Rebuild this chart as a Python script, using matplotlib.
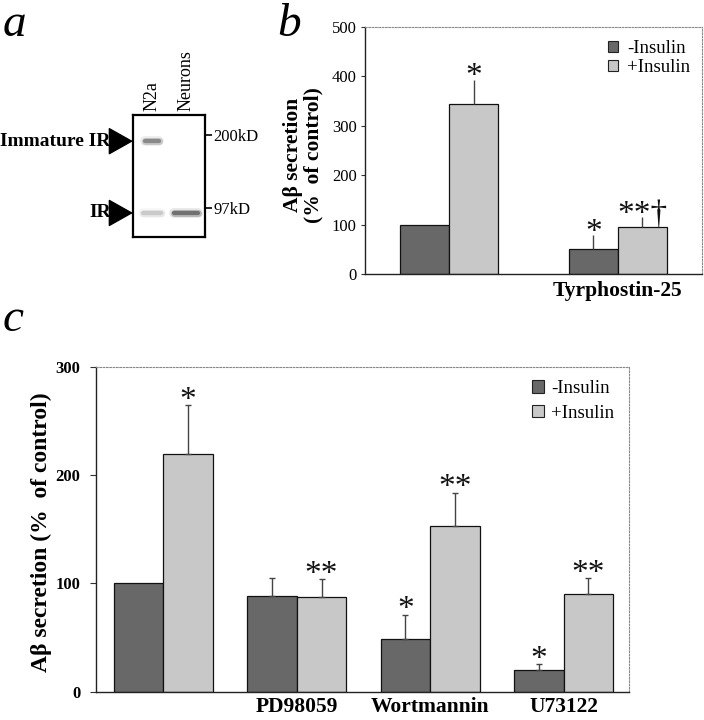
import numpy as np
import matplotlib
matplotlib.use("Agg")
import matplotlib.pyplot as plt
from matplotlib.patches import Patch
from matplotlib.ticker import NullLocator, FixedLocator

plt.rcParams['font.family'] = ['Liberation Serif', 'DejaVu Serif']

# ---------------- data ----------------
# Panel a (western blot)
lane_labels = ["N2a", "Neurons"]
marker_kd = [200, 97]
marker_labels = ["200kD", "97kD"]
band_lane = [0, 0, 1]
band_kd = [188, 92, 92]
band_width = [0.42, 0.55, 0.72]
band_intensity = [0.75, 0.3, 0.95]
arrow_labels = ["Immature IR", "IR"]
arrow_kd = [188, 92]

# Panel b
b_groups = ["", "Tyrphostin-25"]
b_minus = [100, 50]
b_minus_err = [0, 29]
b_plus = [345, 95]
b_plus_err = [48, 20]
b_minus_sig = ["", "*"]
b_plus_sig = ["*", "**\u2020"]

# Panel c
c_groups = ["", "PD98059", "Wortmannin", "U73122"]
c_minus = [100, 88, 49, 20]
c_minus_err = [0, 17, 22, 5]
c_plus = [220, 87, 153, 90]
c_plus_err = [45, 17, 31, 15]
c_minus_sig = ["", "", "*", "*"]
c_plus_sig = ["*", "**", "**", "**"]

series_labels = ["-Insulin", "+Insulin"]
DARK = "#686868"
LIGHT = "#c8c8c8"

W, H = 704, 720
fig = plt.figure(figsize=(W / 100, H / 100), dpi=100)


def px_axes(left, top, right, bottom):
    return fig.add_axes([left / W, 1 - bottom / H, (right - left) / W, (bottom - top) / H])


def style_axes(ax):
    for s in ("top", "right"):
        ax.spines[s].set_color("#8a8a8a")
        ax.spines[s].set_linestyle((0, (1.5, 1.5)))
        ax.spines[s].set_linewidth(0.8)
    for s in ("left", "bottom"):
        ax.spines[s].set_color("#222222")
        ax.spines[s].set_linewidth(1.0)


def draw_bars(ax, groups, minus, minus_err, plus, plus_err, msig, psig,
              width, capsize, sigsize, sig_off):
    x = np.arange(len(groups))
    xm = x - width / 2
    xp = x + width / 2
    ax.bar(xm, minus, width, color=DARK, edgecolor="#111111", linewidth=0.9, zorder=2)
    ax.bar(xp, plus, width, color=LIGHT, edgecolor="#111111", linewidth=0.9, zorder=2)
    for xs, vals, errs, sigs in ((xm, minus, minus_err, msig), (xp, plus, plus_err, psig)):
        for xi, v, e, s in zip(xs, vals, errs, sigs):
            if e > 0:
                ax.errorbar([xi], [v], yerr=[[0], [e]], fmt="none", ecolor="#444444",
                            elinewidth=1.0, capsize=capsize, capthick=1.0, zorder=3)
            if s:
                ax.annotate(s, xy=(xi, v + e), xytext=(0, sig_off), textcoords="offset points",
                            ha="center", va="baseline", fontsize=sigsize, color="#111111")
    return x


# ---------------- panel a ----------------
axa = px_axes(133, 115, 205, 237)
axa.set_yscale("log")
axa.set_xlim(-0.56, 1.56)
axa.set_ylim(72.4, 244)
for lane, kd, w, inten in zip(band_lane, band_kd, band_width, band_intensity):
    for lw, a in ((7, 0.10), (5, 0.22), (3, 0.4)):
        axa.plot([lane - w / 2, lane + w / 2], [kd, kd], color="black", lw=lw,
                 alpha=a * inten, solid_capstyle="round")
for s in axa.spines.values():
    s.set_linewidth(1.6)
    s.set_color("black")
axa.yaxis.tick_right()
axa.yaxis.set_major_locator(FixedLocator(marker_kd))
axa.yaxis.set_minor_locator(NullLocator())
axa.set_yticklabels(marker_labels)
axa.tick_params(axis="y", which="major", direction="out", length=5, width=1.2,
                labelsize=12, pad=1)
axa.xaxis.tick_top()
axa.set_xticks(range(len(lane_labels)))
axa.set_xticklabels(lane_labels, rotation=90, fontsize=13)
axa.tick_params(axis="x", length=0, pad=3)
for lab, kd in zip(arrow_labels, arrow_kd):
    axa.annotate(lab, xy=(-0.56, kd), xytext=(-16, 0), textcoords="offset points",
                 ha="right", va="center", fontsize=14, fontweight="bold",
                 annotation_clip=False,
                 arrowprops=dict(arrowstyle="-|>,head_length=0.8,head_width=0.45",
                                 mutation_scale=20, color="black", lw=1,
                                 shrinkA=0, shrinkB=0))

# ---------------- panel b ----------------
axb = px_axes(365, 27, 702, 274)
draw_bars(axb, b_groups, b_minus, b_minus_err, b_plus, b_plus_err, b_minus_sig, b_plus_sig,
          width=0.29, capsize=0, sigsize=24, sig_off=-4)
axb.set_xlim(-0.5, 1.5)
axb.set_ylim(0, 500)
axb.set_yticks([0, 100, 200, 300, 400, 500])
axb.tick_params(axis="y", labelsize=12, length=3, pad=3, color="#333333")
axb.set_xticks(range(len(b_groups)))
axb.set_xticklabels(b_groups, fontsize=15.5, fontweight="bold")
axb.tick_params(axis="x", length=0, pad=5)
style_axes(axb)
axb.set_ylabel("A\u03b2 secretion\n(%  of control)", fontsize=15.5, fontweight="bold",
               linespacing=1.0, va="center")
axb.yaxis.set_label_coords(-0.1825, 0.482)
hb = [Patch(facecolor=DARK, edgecolor="#222222", lw=0.8),
      Patch(facecolor=LIGHT, edgecolor="#222222", lw=0.8)]
axb.legend(hb, series_labels, loc="upper right", bbox_to_anchor=(1 - 12 / 337, 1 - 13 / 247),
           frameon=False, fontsize=13.5, handlelength=0.55, handleheight=0.55,
           handletextpad=0.45, labelspacing=0.1, borderpad=0, borderaxespad=0)

# ---------------- panel c ----------------
axc = px_axes(95.7, 367.3, 629, 691.5)
draw_bars(axc, c_groups, c_minus, c_minus_err, c_plus, c_plus_err, c_minus_sig, c_plus_sig,
          width=0.371, capsize=2, sigsize=24, sig_off=-2.5)
axc.set_xlim(-0.507, 3.49)
axc.set_ylim(0, 300)
axc.set_yticks([0, 100, 200, 300])
axc.tick_params(axis="y", labelsize=12, length=4, pad=7, color="#333333")
for t in axc.get_yticklabels():
    t.set_fontweight("bold")
axc.set_xticks(range(len(c_groups)))
axc.set_xticklabels(c_groups, fontsize=15.5, fontweight="bold")
axc.tick_params(axis="x", length=0, pad=4)
style_axes(axc)
axc.set_ylabel("A\u03b2 secretion (%  of control)", fontsize=17, fontweight="bold", va="center")
axc.yaxis.set_label_coords((41 - 95.7) / 533.3, 0.49)
hc = [Patch(facecolor=DARK, edgecolor="#222222", lw=0.8),
      Patch(facecolor=LIGHT, edgecolor="#222222", lw=0.8)]
axc.legend(hc, series_labels, loc="upper right", bbox_to_anchor=(1 - 15 / 533, 1 - 13 / 324),
           frameon=False, fontsize=13.5, handlelength=0.65, handleheight=0.65,
           handletextpad=0.35, labelspacing=0.4, borderpad=0, borderaxespad=0)

# ---------------- panel letters ----------------
for letter, (lx, ly) in zip("abc", [(3, 36), (277, 36), (3, 331)]):
    fig.text(lx / W, 1 - ly / H, letter, fontsize=34, fontstyle="italic",
             ha="left", va="baseline")

fig.savefig("out.png", dpi=100)
